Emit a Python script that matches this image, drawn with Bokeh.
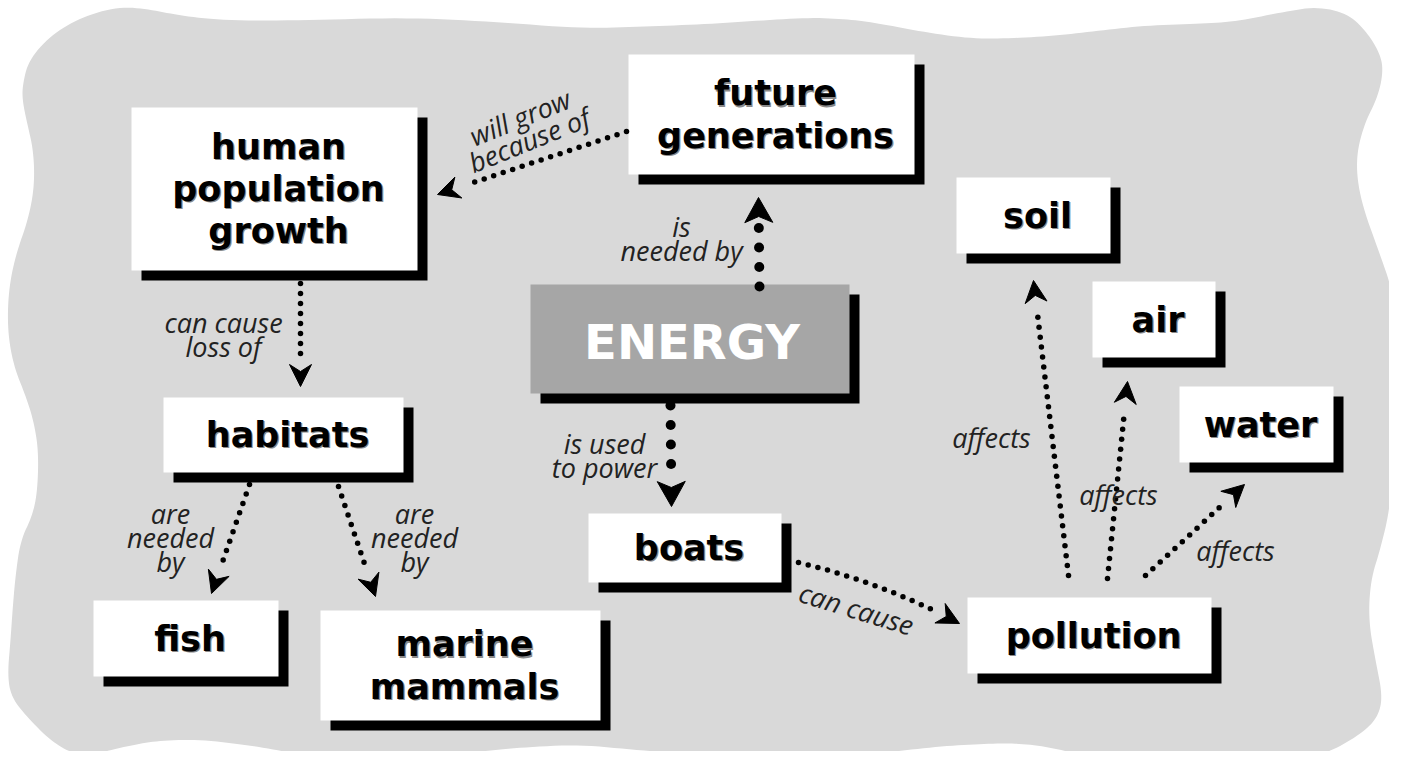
import numpy as np
from bokeh.plotting import figure
from bokeh.models import Range1d
from bokeh.embed import file_html
from bokeh.resources import INLINE
from bokeh.core.properties import value

# ---------------- data ----------------
node_text = ["human\npopulation\ngrowth", "future\ngenerations", "ENERGY", "soil", "air",
             "water", "habitats", "boats", "pollution", "fish", "marine\nmammals"]
node_left = [131, 628, 530, 956, 1092, 1179, 163, 588, 967, 93, 320]
node_right = [417, 914, 849, 1110, 1215, 1333, 403, 781, 1211, 278, 600]
node_top = [107, 54, 284, 177, 281, 386, 397, 513, 597, 600, 610]
node_bottom = [270, 174, 393, 253, 357, 462, 472, 582, 673, 676, 720]
node_is_main = [False, False, True, False, False, False, False, False, False, False, False]

link_text = ["will grow\nbecause of", "is\nneeded by", "can cause\nloss of", "is used\nto power",
             "are\nneeded\nby", "are\nneeded\nby", "can cause", "affects", "affects", "affects"]
label_x = [524, 681, 223, 604, 170, 414, 856, 991, 1118, 1235]
label_y = [128, 238, 334, 455, 537, 537, 608, 437, 494, 550]
label_angle = [22, 0, 0, 0, 0, 0, -17, 0, 0, 0]

link_x0 = [626, 759, 300, 670, 249, 338, 798, 1068, 1107, 1145]
link_y0 = [131, 286, 283, 405, 484, 486, 562, 575, 578, 575]
link_x1 = [437, 758, 300, 671, 211, 375, 959, 1033, 1127, 1244]
link_y1 = [194, 197, 386, 506, 593, 596, 623, 280, 381, 484]
link_bend = [0, 0, 0, 0, 0, 0, -11, 0, 0, 0]
link_heavy = [False, True, False, True, False, False, False, False, False, False]

# background blob outline
blob_x = [22, 28, 50, 80, 118, 150, 179, 223, 300, 402, 491, 580, 640, 700, 760, 812, 850, 879, 920, 968,
          1010, 1057, 1100, 1146, 1200, 1236, 1280, 1316, 1347, 1365, 1378, 1383, 1378, 1363, 1355, 1360,
          1378, 1392, 1397, 1396, 1395, 1392, 1389, 1380, 1370, 1368, 1375, 1382, 1378, 1365, 1338, 1310,
          1285, 1240, 1150, 1100, 1082, 1051, 1020, 992, 950, 902, 850, 812, 760, 700, 640, 580, 520, 480,
          446, 400, 357, 320, 290, 250, 201, 160, 134, 100, 89, 70, 50, 27, 11, 7, 10, 12, 15, 20, 32, 37,
          38, 33, 25, 13, 7, 8, 15, 28, 34, 33, 26, 22]
blob_y = [85, 60, 35, 17, 6, 9, 15, 20, 20, 17, 21, 28, 26, 24, 20, 17, 19, 23, 31, 38,
          38, 35, 30, 25, 23, 21, 12, 6, 13, 30, 50, 68, 95, 125, 160, 200,
          250, 290, 330, 380, 420, 470, 510, 548, 580, 620, 660, 695, 715, 730, 747, 758,
          762, 765, 762, 758, 755, 747, 743, 743, 745, 750, 756, 760, 757, 754, 750, 744, 747, 751,
          754, 762, 765, 760, 752, 745, 739, 740, 744, 752, 756, 752, 740, 717, 697, 675, 640, 610, 575, 540, 515, 490,
          450, 420, 395, 365, 330, 290, 255, 218, 185, 150, 120, 100]

BLOB = "#d9d9d9"
MAIN = "#a6a6a6"

# ---------------- figure ----------------
p = figure(width=1389, height=751, output_backend="svg", toolbar_location=None,
           x_range=Range1d(0, 1389), y_range=Range1d(751, 0), min_border=0,
           background_fill_color="white", border_fill_color="white")
p.axis.visible = False
p.grid.visible = False
p.outline_line_color = None


def chaikin(xs, ys, n=2):
    pts = np.column_stack([xs, ys]).astype(float)
    for _ in range(n):
        nxt = np.roll(pts, -1, axis=0)
        q = 0.75 * pts + 0.25 * nxt
        r = 0.25 * pts + 0.75 * nxt
        pts = np.empty((2 * len(q), 2))
        pts[0::2] = q
        pts[1::2] = r
    return pts[:, 0], pts[:, 1]


bx, by = chaikin(blob_x, blob_y, 3)
p.patch(bx, by, fill_color=BLOB, line_color=None)

# node boxes: shadow then face
L = np.array(node_left, float)
R = np.array(node_right, float)
T = np.array(node_top, float)
B = np.array(node_bottom, float)
off = 10
p.quad(left=L + off, right=R + off, top=T + off, bottom=B + off, fill_color="black", line_color=None)
faces = [MAIN if m else "white" for m in node_is_main]
p.quad(left=L, right=R, top=T, bottom=B, fill_color=faces, line_color=None)

cx = (L + R) / 2 + 4
cy = (T + B) / 2
reg = [i for i, m in enumerate(node_is_main) if not m]
main = [i for i, m in enumerate(node_is_main) if m]
p.text(x=cx[reg] + 1.2, y=cy[reg] + 1.2, text=[node_text[i] for i in reg], text_align="center",
       text_baseline="middle", text_font=value("DejaVu Sans"), text_font_style="bold",
       text_font_size="35px", text_color="#8a8a8a", text_line_height=1.055)
p.text(x=cx[reg], y=cy[reg], text=[node_text[i] for i in reg], text_align="center",
       text_baseline="middle", text_font=value("DejaVu Sans"), text_font_style="bold",
       text_font_size="35px", text_color="black", text_line_height=1.055)
p.text(x=cx[main] - 2, y=cy[main] + 3, text=[node_text[i] for i in main], text_align="center",
       text_baseline="middle", text_font=value("DejaVu Sans"), text_font_style="bold",
       text_font_size="48px", text_color="white")

# links: dotted paths with notched arrowheads
dot_x, dot_y, dot_s = [], [], []
head_xs, head_ys = [], []
for i in range(len(link_x0)):
    p0 = np.array([link_x0[i], link_y0[i]], float)
    p2 = np.array([link_x1[i], link_y1[i]], float)
    d = p2 - p0
    n = np.array([-d[1], d[0]]) / np.hypot(*d)
    p1 = (p0 + p2) / 2 + link_bend[i] * n
    t = np.linspace(0, 1, 400)[:, None]
    path = (1 - t) ** 2 * p0 + 2 * (1 - t) * t * p1 + t ** 2 * p2
    seg = np.hypot(*np.diff(path, axis=0).T)
    s = np.concatenate([[0], np.cumsum(seg)])
    heavy = link_heavy[i]
    spacing, size, gap = (19.5, 10, 30) if heavy else (10, 5.5, 30)
    hl, hw, hn = (25, 14, 19) if heavy else (22, 11, 15)
    for sv in np.arange(0, s[-1] - gap + 0.01, spacing):
        dot_x.append(np.interp(sv, s, path[:, 0]))
        dot_y.append(np.interp(sv, s, path[:, 1]))
        dot_s.append(size)
    tip = path[-1]
    u = path[-1] - path[-12]
    u = u / np.hypot(*u)
    v = np.array([-u[1], u[0]])
    pts = [tip, tip - hl * u + hw * v, tip - hn * u, tip - hl * u - hw * v]
    head_xs.append([q[0] for q in pts])
    head_ys.append([q[1] for q in pts])

p.scatter(dot_x, dot_y, size=dot_s, marker="circle", fill_color="black", line_color=None)
p.patches(head_xs, head_ys, fill_color="black", line_color="black", line_width=1, line_join="round")

# link labels
p.text(x=label_x, y=label_y, text=link_text, angle=np.radians(label_angle), text_align="center",
       text_baseline="middle", text_font=value("Open Sans"), text_font_style="italic",
       text_font_size="27px", text_color="#222222", text_line_height=0.66)

open("out.html", "w").write(file_html(p, INLINE))
